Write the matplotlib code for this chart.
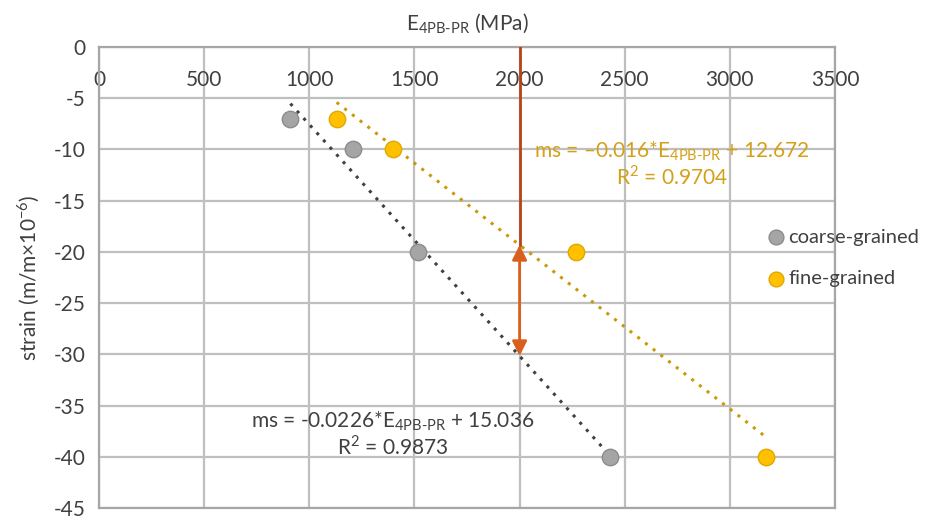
import matplotlib.pyplot as plt
import numpy as np

plt.rcParams['font.family'] = ['Lato', 'DejaVu Sans']
plt.rcParams['mathtext.fontset'] = 'custom'
plt.rcParams['mathtext.rm'] = 'Lato'

# Data
coarse_E = [910, 1210, 1515, 2430]
coarse_strain = [-7, -10, -20, -40]
fine_E = [1130, 1400, 2270, 3170]
fine_strain = [-7, -10, -20, -40]

# Trendline coefficients as printed on the chart
coarse_slope, coarse_icpt, coarse_r2 = -0.0226, 15.036, 0.9873
fine_slope, fine_icpt, fine_r2 = -0.016, 12.672, 0.9704

E_mark = 2000  # vertical marker line

x_ticks = np.arange(0, 3501, 500)
y_ticks = np.arange(0, -46, -5)

grid_col = '#BFBFBF'
text_col = '#404040'
gray = '#A5A5A5'
orange = '#FFC000'
fine_line = '#C99A06'

fig = plt.figure(figsize=(9.36, 5.17), dpi=100)
ax = fig.add_axes([0.1058, 0.0174, 0.7863, 0.8917])

ax.set_xlim(0, 3500)
ax.set_ylim(-45, 0)
ax.set_xticks(x_ticks)
ax.set_yticks(y_ticks)
ax.grid(True, color=grid_col, linewidth=1.6, zorder=0)
ax.set_axisbelow(True)
for s in ax.spines.values():
    s.set_color('#A6A6A6')
    s.set_linewidth(1.6)

# x labels hang from the top axis (Excel style)
ax.tick_params(axis='x', top=True, bottom=False, labeltop=True, labelbottom=False,
               length=0, pad=-31, labelsize=15, labelcolor=text_col)
ax.tick_params(axis='y', length=0, pad=10, labelsize=15, labelcolor=text_col)
ax.set_yticklabels([str(v) for v in y_ticks])

ax.set_xlabel(r'E$_{\mathregular{4PB\text{-}PR}}$ (MPa)', fontsize=15, color=text_col, labelpad=12)
ax.xaxis.set_label_position('top')
ax.set_ylabel('strain (m/m\u00d710$^{\\mathregular{-6}}$)', fontsize=15, color=text_col, labelpad=8)

# trendlines
xc = np.array([min(coarse_E), max(coarse_E)])
xf = np.array([min(fine_E), max(fine_E)])
ax.plot(xc, coarse_slope * xc + coarse_icpt, linestyle=(0, (1, 2.2)), color='#404040', linewidth=2.2, zorder=2)
ax.plot(xf, fine_slope * xf + fine_icpt, linestyle=(0, (1, 2.2)), color=fine_line, linewidth=2.2, zorder=2)

# points
ax.scatter(coarse_E, coarse_strain, s=140, color=gray, edgecolors='#8C8C8C', linewidths=1, zorder=4, label='coarse-grained')
ax.scatter(fine_E, fine_strain, s=140, color=orange, edgecolors='#E0A800', linewidths=1, zorder=4, label='fine-grained')

# vertical marker with double arrow between the two trendlines
y_fine = fine_slope * E_mark + fine_icpt
y_coarse = coarse_slope * E_mark + coarse_icpt
ax.plot([E_mark, E_mark], [0, y_fine], color='#B8431A', linewidth=2, zorder=3)
ax.annotate('', xy=(E_mark, y_coarse), xytext=(E_mark, y_fine),
            arrowprops=dict(arrowstyle='<|-|>', color='#D9601C', linewidth=2,
                            mutation_scale=22, shrinkA=0, shrinkB=0), zorder=3)

# equations
ax.text(2725, -11.4, 'ms = \u20130.016*E$_{\\mathregular{4PB\\text{-}PR}}$ + 12.672\nR$^{\\mathregular{2}}$ = 0.9704',
        ha='center', va='center', fontsize=15, color='#D4A017', linespacing=1.1, zorder=5)
ax.text(1398, -37.8, 'ms = -0.0226*E$_{\\mathregular{4PB\\text{-}PR}}$ + 15.036\nR$^{\\mathregular{2}}$ = 0.9873',
        ha='center', va='center', fontsize=15, color=text_col, linespacing=1.1, zorder=5)

leg = ax.legend(loc='center left', bbox_to_anchor=(0.893, 0.543), frameon=False, fontsize=14.5,
                handletextpad=0.0, handlelength=1.2, labelspacing=1.2, markerscale=0.9, borderaxespad=0)
for t in leg.get_texts():
    t.set_color(text_col)

fig.savefig('out.png', dpi=100)
